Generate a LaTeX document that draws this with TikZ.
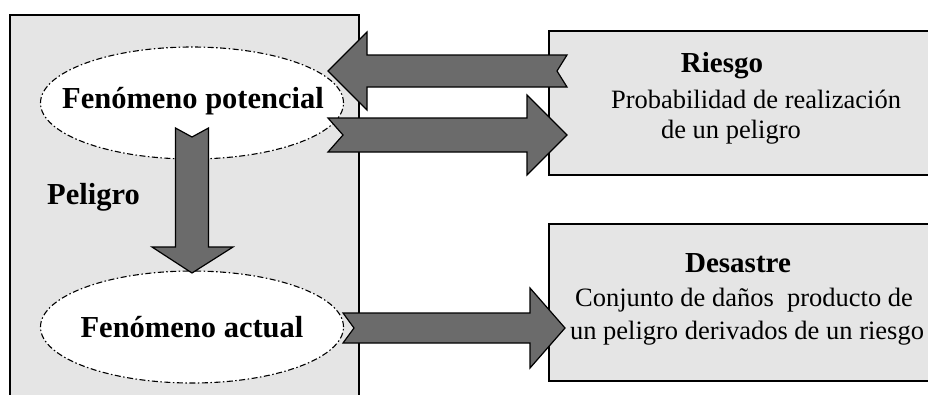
\documentclass[tikz,border=0pt]{standalone}
\usepackage{fontspec}
\setmainfont{Liberation Serif}
\usetikzlibrary{shapes.geometric}
\definecolor{paper}{gray}{0.90}
\definecolor{arrowfill}{gray}{0.42}
\tikzset{
  panel/.style={fill=paper, draw=none},
  edgeline/.style={draw=black, line width=1.2pt},
  phen/.style={ellipse, draw=black, fill=white, line width=1.1pt,
    dash pattern=on 6pt off 2.5pt on 1.5pt off 2.5pt,
    minimum width=303pt, minimum height=112pt, inner sep=0pt},
  phentext/.style={inner sep=0pt, font=\fontsize{30.5}{34}\selectfont\bfseries},
  title/.style={anchor=base, font=\fontsize{29}{33}\selectfont\bfseries},
  body/.style={anchor=base, font=\fontsize{26.5}{30}\selectfont},
  blockarrow/.style={fill=arrowfill, draw=black, line width=1.2pt, line join=miter},
}
\begin{document}
\begin{tikzpicture}[x=1pt,y=-1pt]
\useasboundingbox (0,0) rectangle (928,394);
% left panel
\fill[panel] (10,15) rectangle (359,396);
\draw[edgeline] (10,396) -- (10,15) -- (359,15) -- (359,396);
% right boxes
\fill[panel] (549,31) rectangle (930,175);
\draw[edgeline] (930,31) -- (549,31) -- (549,175) -- (930,175);
\fill[panel] (549,224) rectangle (930,381);
\draw[edgeline] (930,224) -- (549,224) -- (549,381) -- (930,381);
% ellipses
\node[phen] (fp) at (192,103) {};
\node[phentext, anchor=base] (fpt) at (193,108) {Fenómeno potencial};
\node[phen] (fa) at (192,327) {};
\node[phentext, anchor=base] (fat) at (192,337) {Fenómeno actual};
\node[anchor=base west, inner sep=0pt, font=\fontsize{30.5}{34}\selectfont\bfseries] (pel) at (47,204) {Peligro};
% right texts
\node[title] (rt) at (722,72) {Riesgo};
\node[body] (r1) at (756,108) {Probabilidad de realización};
\node[body] (r2) at (731,138) {de un peligro};
\node[title] (dt) at (738,272) {Desastre};
\node[body] (d1) at (744,306) {Conjunto de daños\ \ producto de};
\node[body] (d2) at (747,339) {un peligro derivados de un riesgo};
% block arrows
% down arrow (Fenomeno potencial -> Fenomeno actual)
\draw[blockarrow] (175.5,128) -- (192,137) -- (208.5,128) -- (208.5,247) -- (233,247)
  -- (192,273) -- (152,247) -- (175.5,247) -- cycle;
% left-pointing arrow (Riesgo -> Fenomeno potencial)
\draw[blockarrow] (567,55) -- (367,55) -- (367,32) -- (328,71) -- (367,110)
  -- (367,87) -- (567,87) -- (557,71) -- cycle;
% right-pointing arrow (Fenomeno potencial -> Riesgo)
\draw[blockarrow] (328,118) -- (527,118) -- (527,95) -- (567,135) -- (527,175)
  -- (527,152) -- (328,152) -- (343,135) -- cycle;
% bottom arrow (Fenomeno actual -> Desastre)
\draw[blockarrow] (343,313) -- (530,313) -- (530,288) -- (565,328) -- (530,368)
  -- (530,343) -- (343,343) -- (354,328) -- cycle;
\end{tikzpicture}
\end{document}
